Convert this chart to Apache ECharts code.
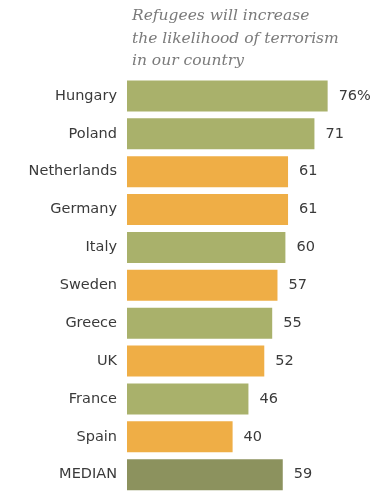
<!DOCTYPE html>
<html>
<head>
<meta charset="utf-8">
<script src="https://cdn.jsdelivr.net/npm/echarts@6/dist/echarts.min.js"></script>
<style>
html,body{margin:0;padding:0;background:#fff;}
#chart{width:387px;height:501px;}
</style>
</head>
<body>
<div id="chart"></div>
<script>
var categories = ['Hungary','Poland','Netherlands','Germany','Italy','Sweden','Greece','UK','France','Spain','MEDIAN'];
var values = [76,71,61,61,60,57,55,52,46,40,59];
var groups = ['g','g','o','o','g','o','g','o','g','o','m'];
var titleLines = ['Refugees will increase','the likelihood of terrorism','in our country'];

var colorMap = {g:'#a9b16b', o:'#efae46', m:'#8c925e'};

var chart = echarts.init(document.getElementById('chart'), null, {renderer:'canvas'});
chart.setOption({
  animation:false,
  backgroundColor:'#fff',
  title:{
    text:titleLines.join('\n'),
    left:127, top:0,
    textStyle:{fontFamily:'DejaVu Serif', fontStyle:'italic', fontWeight:'normal', fontSize:15.5, lineHeight:22.5, color:'#7a7a7a'}
  },
  grid:{left:127, right:48.8, top:77, bottom:7.4, containLabel:false},
  xAxis:{type:'value', min:0, max:80, show:false},
  yAxis:{
    type:'category', data:categories, inverse:true,
    axisLine:{show:false}, axisTick:{show:false},
    axisLabel:{margin:10, fontFamily:'DejaVu Sans', fontSize:14.5, color:'#3a3a3a'}
  },
  series:[{
    type:'bar',
    barCategoryGap:'18%',
    data:values.map(function(v,i){return {value:v, itemStyle:{color:colorMap[groups[i]]}};}),
    label:{
      show:true, position:'right', distance:11,
      fontFamily:'DejaVu Sans', fontSize:14.5, color:'#3a3a3a',
      formatter:function(p){return p.dataIndex===0 ? p.value+'%' : String(p.value);}
    }
  }]
});
</script>
</body>
</html>
